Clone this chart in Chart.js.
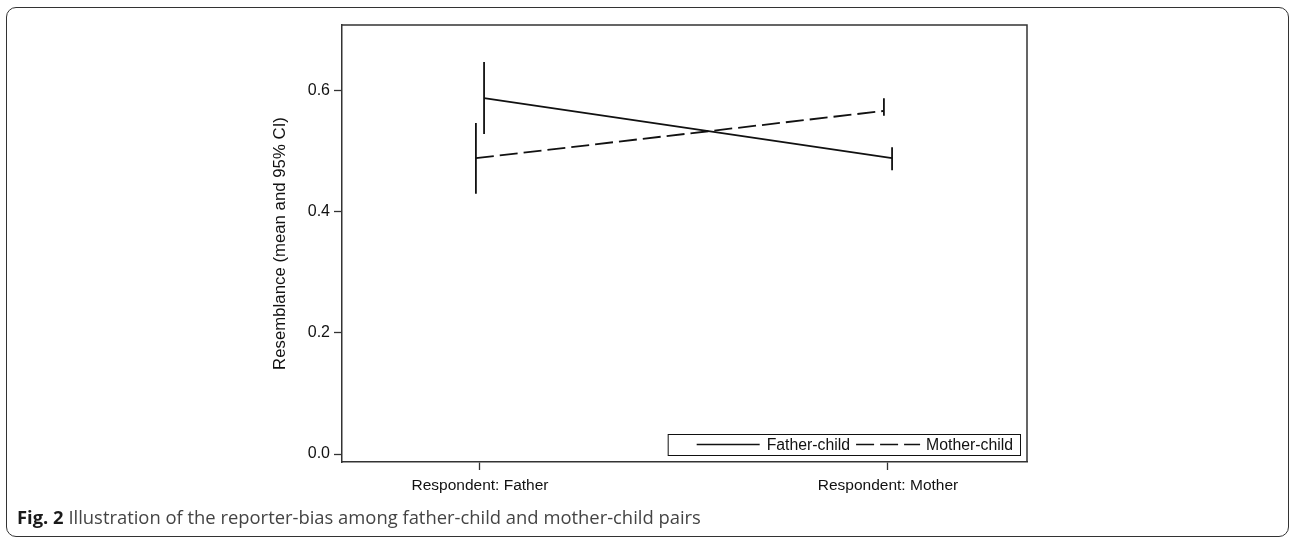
<!DOCTYPE html>
<html>
<head>
<meta charset="utf-8">
<script src="https://cdn.jsdelivr.net/npm/chart.js@4.4.1/dist/chart.umd.min.js"></script>
<style>
  html, body { margin: 0; padding: 0; background: #fff; }
  #wrap { position: relative; width: 1290px; height: 538px; overflow: hidden; }
  #frame { position: absolute; left: 6px; top: 7px; width: 1283px; height: 530px;
           border: 1.5px solid #333; border-radius: 10px; box-sizing: border-box; }
  #chart { position: absolute; left: 0; top: 0; }
  #caption { position: absolute; left: 17px; top: 504px; font-family: "Open Sans", sans-serif;
             font-size: 18.4px; color: #444; white-space: nowrap; }
  #caption b { color: #1a1a1a; }
</style>
</head>
<body>
<div id="wrap">
  <div id="frame"></div>
  <canvas id="chart" width="1290" height="538"></canvas>
  <div id="caption"><b>Fig. 2</b> Illustration of the reporter-bias among father-child and mother-child pairs</div>
</div>
<script>
// ---- data ----
const categories = ['Respondent: Father', 'Respondent: Mother'];
const seriesNames = ['Father-child', 'Mother-child'];
const fatherChildMean = [0.588, 0.489];
const fatherChildLow  = [0.529, 0.469];
const fatherChildHigh = [0.648, 0.507];
const motherChildMean = [0.489, 0.567];
const motherChildLow  = [0.430, 0.559];
const motherChildHigh = [0.547, 0.588];
const yTicks = [0, 0.2, 0.4, 0.6];
const yTitle = 'Resemblance (mean and 95% CI)';

// ---- styling constants ----
const FONT = "'Liberation Sans', Arial, sans-serif";
const DODGE = 0.01;            // horizontal offset of the two series (x-units)
const DASH = [18, 6];

function pts(mean, low, high, off) {
  return mean.map((m, i) => ({ x: i + 1 + off, y: m, lo: low[i], hi: high[i] }));
}

const datasets = [
  { label: seriesNames[0], data: pts(fatherChildMean, fatherChildLow, fatherChildHigh, DODGE),
    borderColor: '#111', borderWidth: 1.8, pointRadius: 0, borderDash: [], fill: false },
  { label: seriesNames[1], data: pts(motherChildMean, motherChildLow, motherChildHigh, -DODGE),
    borderColor: '#111', borderWidth: 1.8, pointRadius: 0, borderDash: DASH, fill: false }
];

const overlay = {
  id: 'overlay',
  afterDatasetsDraw(chart) {
    const { ctx, chartArea: a, scales: { x, y } } = chart;
    ctx.save();
    // error bars
    chart.data.datasets.forEach(ds => {
      ds.data.forEach(p => {
        const px = x.getPixelForValue(p.x);
        ctx.beginPath();
        ctx.strokeStyle = '#111';
        ctx.lineWidth = 1.8;
        ctx.setLineDash([]);
        ctx.moveTo(px, y.getPixelForValue(p.lo));
        ctx.lineTo(px, y.getPixelForValue(p.hi));
        ctx.stroke();
      });
    });
    // plot frame top/right
    ctx.strokeStyle = '#333';
    ctx.lineWidth = 1.5;
    ctx.beginPath();
    ctx.moveTo(a.left, a.top);
    ctx.lineTo(a.right, a.top);
    ctx.lineTo(a.right, a.bottom);
    ctx.stroke();
    // legend
    ctx.font = '15.8px ' + FONT;
    ctx.fillStyle = '#111';
    ctx.textBaseline = 'middle';
    const names = chart.data.datasets.map(d => d.label);
    const w0 = ctx.measureText(names[0]).width;
    const w1 = ctx.measureText(names[1]).width;
    const boxR = a.right - 7, boxB = a.bottom - 7, boxH = 21;
    const cy = boxB - boxH / 2;
    const t1x = boxR - 7 - w1;
    const s1e = t1x - 6, s1s = s1e - 64;
    const t0x = s1s - 6 - w0;
    const s0e = t0x - 7, s0s = s0e - 63;
    const boxL = s0s - 29;
    ctx.lineWidth = 1;
    ctx.strokeStyle = '#111';
    ctx.setLineDash([]);
    ctx.strokeRect(boxL + 0.5, boxB - boxH + 0.5, boxR - boxL, boxH);
    ctx.lineWidth = 1.5;
    ctx.beginPath(); ctx.moveTo(s0s, cy); ctx.lineTo(s0e, cy); ctx.stroke();
    ctx.setLineDash(DASH);
    ctx.beginPath(); ctx.moveTo(s1s, cy); ctx.lineTo(s1e, cy); ctx.stroke();
    ctx.setLineDash([]);
    ctx.fillText(names[0], t0x, cy + 1);
    ctx.fillText(names[1], t1x, cy + 1);
    ctx.restore();
  }
};

new Chart(document.getElementById('chart'), {
  type: 'line',
  data: { datasets },
  plugins: [overlay],
  options: {
    responsive: false,
    animation: false,
    events: [],
    layout: { padding: { left: 262, top: 25, right: 263, bottom: 0 } },
    plugins: { legend: { display: false }, tooltip: { enabled: false } },
    scales: {
      x: {
        type: 'linear', min: 0.6618, max: 2.3407,
        afterFit(s) { s.height = 76; },
        afterBuildTicks(s) { s.ticks = categories.map((c, i) => ({ value: i + 1 })); },
        ticks: { callback: (v) => categories[Math.round(v) - 1], color: '#111',
                 font: { family: FONT, size: 15.5 }, padding: 6, maxRotation: 0, autoSkip: false },
        grid: { drawOnChartArea: false, drawTicks: true, tickLength: 8, color: '#333', tickWidth: 1.3 },
        border: { display: true, color: '#333', width: 1.5 }
      },
      y: {
        type: 'linear', min: -0.0132, max: 0.709,
        afterFit(s) { s.width = 80; },
        afterBuildTicks(s) { s.ticks = yTicks.map(v => ({ value: v })); },
        ticks: { callback: (v) => v.toFixed(1), color: '#111',
                 font: { family: FONT, size: 16 }, padding: 4 },
        grid: { drawOnChartArea: false, drawTicks: true, tickLength: 8, color: '#333', tickWidth: 1.3 },
        border: { display: true, color: '#333', width: 1.5 },
        title: { display: true, text: yTitle, color: '#111',
                 font: { family: FONT, size: 16.8 }, padding: { top: 8, bottom: 0 } }
      }
    }
  }
});
</script>
</body>
</html>
